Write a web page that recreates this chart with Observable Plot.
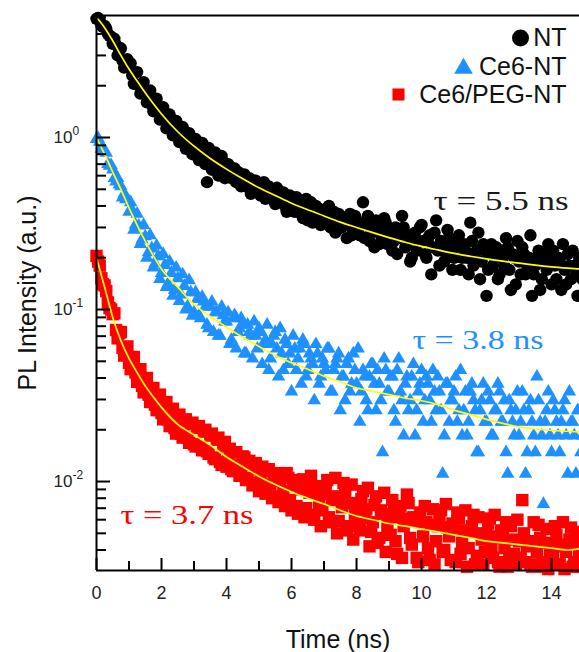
<!DOCTYPE html>
<html><head><meta charset="utf-8">
<script src="https://cdn.jsdelivr.net/npm/d3@7"></script>
<script src="https://cdn.jsdelivr.net/npm/@observablehq/plot@0.6"></script>
<style>html,body{margin:0;padding:0;background:#fff;} #chart svg{display:block;}</style>
</head><body><div id="chart"></div>
<script>
// sampling times (ns): whole-tenth channels and half-tenth channels
const times = [0,0.1,0.2,0.3,0.4,0.5,0.6,0.7,0.8,0.9,1,1.1,1.2,1.3,1.4,1.5,1.6,1.7,1.8,1.9,2,2.1,2.2,2.3,2.4,2.5,2.6,2.7,2.8,2.9,3,3.1,3.2,3.3,3.4,3.5,3.6,3.7,3.8,3.9,4,4.1,4.2,4.3,4.4,4.5,4.6,4.7,4.8,4.9,5,5.1,5.2,5.3,5.4,5.5,5.6,5.7,5.8,5.9,6,6.1,6.2,6.3,6.4,6.5,6.6,6.7,6.8,6.9,7,7.1,7.2,7.3,7.4,7.5,7.6,7.7,7.8,7.9,8,8.1,8.2,8.3,8.4,8.5,8.6,8.7,8.8,8.9,9,9.1,9.2,9.3,9.4,9.5,9.6,9.7,9.8,9.9,10,10.1,10.2,10.3,10.4,10.5,10.6,10.7,10.8,10.9,11,11.1,11.2,11.3,11.4,11.5,11.6,11.7,11.8,11.9,12,12.1,12.2,12.3,12.4,12.5,12.6,12.7,12.8,12.9,13,13.1,13.2,13.3,13.4,13.5,13.6,13.7,13.8,13.9,14,14.1,14.2,14.3,14.4,14.5,14.6,14.7,14.8,14.9];
const timesHalf = [0.05,0.15,0.25,0.35,0.45,0.55,0.65,0.75,0.85,0.95,1.05,1.15,1.25,1.35,1.45,1.55,1.65,1.75,1.85,1.95,2.05,2.15,2.25,2.35,2.45,2.55,2.65,2.75,2.85,2.95,3.05,3.15,3.25,3.35,3.45,3.55,3.65,3.75,3.85,3.95,4.05,4.15,4.25,4.35,4.45,4.55,4.65,4.75,4.85,4.95,5.05,5.15,5.25,5.35,5.45,5.55,5.65,5.75,5.85,5.95,6.05,6.15,6.25,6.35,6.45,6.55,6.65,6.75,6.85,6.95,7.05,7.15,7.25,7.35,7.45,7.55,7.65,7.75,7.85,7.95,8.05,8.15,8.25,8.35,8.45,8.55,8.65,8.75,8.85,8.95,9.05,9.15,9.25,9.35,9.45,9.55,9.65,9.75,9.85,9.95,10.05,10.15,10.25,10.35,10.45,10.55,10.65,10.75,10.85,10.95,11.05,11.15,11.25,11.35,11.45,11.55,11.65,11.75,11.85,11.95,12.05,12.15,12.25,12.35,12.45,12.55,12.65,12.75,12.85,12.95,13.05,13.15,13.25,13.35,13.45,13.55,13.65,13.75,13.85,13.95,14.05,14.15,14.25,14.35,14.45,14.55,14.65,14.75,14.85,14.95];

// NT (black circles)
const ntValues = [
4.9,4.8,4.4,4.3,3.9,3.5,3.45,3.2,2.8,2.75,
2.6,2.3,2.05,2.0,1.85,1.9,1.75,1.55,1.5,1.52,
1.4,1.33,1.2,1.22,1.1,1.12,1.0,1.06,0.92,0.97,
0.85,0.9,0.78,0.86,0.55,0.8,0.7,0.76,0.66,0.72,
0.6,0.68,0.64,0.55,0.62,0.6,0.52,0.58,0.5,0.56,
0.48,0.53,0.44,0.52,0.5,0.41,0.49,0.47,0.4,0.45,
0.44,0.37,0.43,0.36,0.41,0.33,0.42,0.36,0.39,0.31,
0.38,0.35,0.3,0.37,0.29,0.35,0.32,0.26,0.36,0.3,
0.33,0.27,0.42,0.31,0.25,0.3,0.33,0.24,0.29,0.32,
0.27,0.22,0.3,0.26,0.35,0.23,0.27,0.2,0.28,0.25,
0.31,0.21,0.26,0.16,0.28,0.22,0.25,0.19,0.29,0.23,
0.2,0.25,0.17,0.24,0.2,0.32,0.18,0.22,0.15,0.24,
0.12,0.21,0.18,0.23,0.16,0.2,0.26,0.17,0.21,0.14,
0.19,0.23,0.16,0.2,0.12,0.18,0.22,0.15,0.19,0.24,
0.14,0.18,0.2,0.13,0.17,0.21,0.15,0.18,0.12,0.19];
const ntValuesHalf = [
4.95,4.5,4.45,4.0,3.85,3.75,3.0,3.3,2.55,2.85,
2.7,2.05,2.4,1.8,2.1,1.6,1.88,1.42,1.68,1.27,
1.5,1.13,1.36,1.03,1.25,0.94,1.15,0.86,1.06,0.8,
0.98,0.74,0.93,0.7,0.87,0.65,0.82,0.6,0.78,0.58,
0.7,0.58,0.66,0.63,0.52,0.61,0.57,0.47,0.56,0.54,
0.46,0.55,0.45,0.5,0.43,0.51,0.42,0.48,0.37,0.46,
0.39,0.45,0.38,0.34,0.44,0.37,0.32,0.4,0.34,0.37,
0.32,0.4,0.33,0.28,0.36,0.3,0.34,0.31,0.27,0.35,
0.29,0.32,0.26,0.35,0.28,0.23,0.31,0.27,0.34,0.24,
0.29,0.25,0.21,0.28,0.3,0.24,0.19,0.27,0.22,0.3,
0.25,0.2,0.27,0.23,0.33,0.18,0.24,0.21,0.26,0.17,
0.23,0.27,0.2,0.22,0.16,0.25,0.21,0.28,0.19,0.22,
0.17,0.24,0.2,0.15,0.22,0.18,0.23,0.13,0.2,0.25,
0.16,0.21,0.18,0.27,0.16,0.2,0.13,0.21,0.17,0.2,
0.22,0.15,0.19,0.24,0.14,0.18,0.22,0.16,0.2,0.15];

// Ce6-NT (blue triangles)
const ce6Values = [
0.98,0.944,0.833,0.814,0.685,0.651,0.555,0.533,0.448,0.437,
0.37,0.377,0.311,0.307,0.255,0.266,0.215,0.226,0.185,0.204,
0.163,0.181,0.141,0.163,0.13,0.152,0.122,0.137,0.104,0.126,
0.0962,0.115,0.0888,0.111,0.0814,0.1036,0.074,0.0962,0.0703,0.0925,
0.0851,0.0629,0.0888,0.0592,0.0777,0.0814,0.0555,0.074,0.0518,0.0703,
0.0777,0.0481,0.0666,0.0444,0.0629,0.074,0.0407,0.0555,0.0666,0.0481,
0.0333,0.0592,0.0518,0.037,0.0629,0.0444,0.0518,0.0296,0.0555,0.0407,
0.0481,0.0592,0.0333,0.0444,0.0518,0.0259,0.0407,0.0481,0.0333,0.0555,
0.037,0.0222,0.0444,0.0296,0.0407,0.0481,0.0259,0.037,0.0148,0.0444,
0.0333,0.0407,0.0222,0.0518,0.0296,0.037,0.0259,0.0407,0.0185,0.0333,
0.0444,0.0296,0.037,0.0222,0.0333,0.0407,0.0259,0.0185,0.037,0.0296,
0.0333,0.0222,0.0444,0.0259,0.0185,0.0333,0.0296,0.0148,0.0259,0.037,
0.0222,0.0296,0.0185,0.0259,0.0333,0.0222,0.0148,0.0296,0.0222,0.0259,
0.0185,0.0333,0.0111,0.0259,0.0222,0.0148,0.0296,0.0185,0.0222,0.0333,
0.0148,0.0259,0.0185,0.0222,0.0296,0.0111,0.0222,0.0185,0.0259,0.0148];
const ce6ValuesHalf = [
0.99,0.86,0.83,0.7,0.69,0.58,0.58,0.52,0.47,0.44,
0.42,0.29,0.36,0.24,0.31,0.2,0.27,0.175,0.235,0.15,
0.21,0.135,0.19,0.12,0.175,0.112,0.16,0.1,0.148,0.092,
0.1258,0.0925,0.1184,0.1036,0.0777,0.111,0.0962,0.0703,0.1036,0.0851,
0.0962,0.0666,0.0925,0.074,0.0888,0.0555,0.0814,0.0703,0.0851,0.0592,
0.074,0.0629,0.0814,0.0518,0.0703,0.0592,0.0777,0.0444,0.0629,0.0555,
0.0703,0.0444,0.0592,0.0666,0.0407,0.0555,0.0481,0.0629,0.037,0.0518,
0.0444,0.0592,0.0333,0.0481,0.0555,0.0407,0.0296,0.0518,0.037,0.0444,
0.0592,0.0333,0.0407,0.0259,0.0481,0.037,0.0444,0.0296,0.0518,0.0333,
0.0407,0.0259,0.0444,0.0333,0.0185,0.0407,0.0296,0.0481,0.0259,0.037,
0.0222,0.0407,0.0296,0.0444,0.0259,0.0333,0.0111,0.037,0.0222,0.0296,
0.0407,0.0259,0.0185,0.0333,0.0222,0.037,0.0259,0.0148,0.0296,0.0222,
0.0333,0.0185,0.0259,0.037,0.0222,0.0296,0.0111,0.0259,0.0185,0.0333,
0.0222,0.0259,0.0148,0.0296,0.0185,0.0407,0.0222,0.0074,0.0259,0.0185,
0.0296,0.0222,0.0148,0.0259,0.0185,0.0333,0.0222,0.0111,0.0259,0.0185];

// Ce6/PEG-NT (red squares)
const pegValues = [
0.205,0.18,0.14,0.128,0.102,0.094,0.076,0.073,0.06,0.06,
0.049,0.051,0.043,0.044,0.036,0.038,0.032,0.034,0.028,0.031,
0.025,0.0285,0.023,0.0255,0.0205,0.0235,0.019,0.0225,0.018,0.0215,
0.0165,0.0205,0.016,0.0195,0.015,0.0185,0.0138,0.0175,0.013,0.016,
0.0122,0.0155,0.0115,0.0148,0.0108,0.014,0.0102,0.0132,0.0095,0.0128,
0.0088,0.0122,0.0085,0.0118,0.008,0.0112,0.0076,0.0108,0.0072,0.0105,
0.0068,0.0102,0.0065,0.0098,0.0062,0.0094,0.0108,0.006,0.0088,0.0055,
0.0085,0.0102,0.0058,0.0082,0.005,0.0079,0.0098,0.0052,0.0075,0.0046,
0.0072,0.0052,0.0088,0.0069,0.0042,0.0058,0.0082,0.0047,0.0065,0.0039,
0.0064,0.0078,0.0045,0.0062,0.0036,0.0061,0.0075,0.0043,0.0059,0.0034,
0.0058,0.0072,0.0041,0.0056,0.0033,0.0055,0.0068,0.004,0.0054,0.0035,
0.0053,0.0066,0.0038,0.0052,0.0032,0.0051,0.0064,0.0037,0.005,0.0033,
0.0049,0.0061,0.0036,0.0048,0.0032,0.0047,0.0058,0.0035,0.0046,0.0033,
0.0045,0.0078,0.0034,0.0045,0.0032,0.0044,0.0056,0.0034,0.0044,0.0031,
0.0043,0.0055,0.0033,0.0042,0.0031,0.0043,0.0054,0.0034,0.0044,0.0032];
const pegValuesHalf = [
0.19,0.152,0.138,0.11,0.1,0.095,0.068,0.074,0.054,0.061,
0.045,0.053,0.038,0.045,0.033,0.04,0.029,0.035,0.026,0.032,
0.023,0.029,0.021,0.0265,0.019,0.0245,0.018,0.023,0.0168,0.022,
0.016,0.021,0.0152,0.02,0.0145,0.019,0.0135,0.018,0.0125,0.017,
0.0132,0.0118,0.0148,0.0125,0.0112,0.0138,0.0105,0.0125,0.0098,0.0118,
0.0108,0.0092,0.0115,0.0096,0.0104,0.0082,0.0101,0.0088,0.0112,0.0078,
0.0095,0.0072,0.009,0.0103,0.007,0.0086,0.0064,0.0094,0.0075,0.0068,
0.0092,0.0062,0.0078,0.0105,0.0059,0.0071,0.0084,0.0055,0.0096,0.0065,
0.0058,0.0079,0.0061,0.0092,0.0051,0.0073,0.0044,0.0068,0.0086,0.0055,
0.0049,0.0067,0.0038,0.0072,0.0055,0.0084,0.0047,0.0062,0.0036,0.0066,
0.0048,0.0058,0.0035,0.0069,0.0045,0.0062,0.0039,0.0074,0.0048,0.0057,
0.0034,0.0061,0.0044,0.0068,0.0041,0.0055,0.0033,0.0062,0.0046,0.0039,
0.0057,0.0042,0.0064,0.0034,0.0052,0.0041,0.0032,0.0055,0.0038,0.006,
0.0036,0.005,0.0042,0.0033,0.0058,0.0039,0.0047,0.0032,0.0053,0.004,
0.0036,0.0049,0.0033,0.0058,0.0039,0.0046,0.0032,0.0051,0.0037,0.0045];

// fitted decay curves (yellow)
const fitTimes = [0,0.25,0.5,0.75,1,1.25,1.5,1.75,2,2.5,3,3.5,4,4.5,5,5.5,6,6.5,7,7.5,8,8.5,9,9.5,10,10.5,11,11.5,12,12.5,13,13.5,14,14.5,14.9];
const ntFit = [5.0,4.35,3.65,3.0,2.5,2.13,1.82,1.57,1.37,1.08,0.89,0.755,0.655,0.575,0.51,0.46,0.415,0.38,0.35,0.322,0.30,0.28,0.262,0.246,0.233,0.222,0.212,0.204,0.197,0.191,0.186,0.181,0.177,0.174,0.172];
const ce6Fit = [1.0,0.80,0.63,0.50,0.39,0.31,0.25,0.205,0.172,0.135,0.107,0.091,0.079,0.069,0.061,0.054,0.049,0.045,0.041,0.038,0.035,0.0335,0.032,0.0305,0.0295,0.028,0.026,0.0245,0.023,0.0218,0.0208,0.0202,0.0198,0.0196,0.0194];
const pegFit = [0.2,0.135,0.09,0.066,0.052,0.043,0.036,0.031,0.027,0.0215,0.0187,0.0163,0.0139,0.0122,0.0107,0.0096,0.0087,0.008,0.0074,0.0068,0.0063,0.006,0.0057,0.0055,0.0053,0.0051,0.0049,0.0047,0.0045,0.0044,0.0043,0.0042,0.0041,0.004,0.0041];

const seriesNames = ["NT", "Ce6-NT", "Ce6/PEG-NT"];
const tauLabels = ["τ = 5.5 ns", "τ = 3.8 ns", "τ = 3.7 ns"];
const tauTimes = [10.37, 9.72, 0.74];
const tauValues = [0.381, 0.0593, 0.0057];

const xMajorTicks = [0,2,4,6,8,10,12,14];
const xMinorTicks = [1,3,5,7,9,11,13];
const yMajorTicks = [0.01, 0.1, 1];
const yMajorExponents = ["-2", "-1", "0"];
const yMinorTicks = [0.004,0.005,0.006,0.007,0.008,0.009,0.02,0.03,0.04,0.05,0.06,0.07,0.08,0.09,0.2,0.3,0.4,0.5,0.6,0.7,0.8,0.9,2,3,4,5];
const xDomain = [0, 14.86];
const yDomain = [0.00304, 5.12];
const xTitle = "Time (ns)";
const yTitle = "PL Intensity (a.u.)";

// ---- layout / style ----
const W = 579, H = 652, ML = 96, MR = 0, MT = 15, MB = 82;
const plotW = W - ML - MR, plotH = H - MT - MB;
const colors = ["#000000", "#1E90FF", "#FF0000"];
const tauColors = ["#1a1a1a", "#1E90FF", "#FF0000"];
const tauWidths = [135, 131, 133];
const symbols = ["circle", "triangle", "square"];
const dataR = [6.2, 5.0, 7.0];
const fitColor = "#FFFF00";

const pts = (tt, vals) => tt.map((t, i) => ({t, v: vals[i]}));
const seriesData = [
  pts(times, ntValues).concat(pts(timesHalf, ntValuesHalf)),
  pts(times, ce6Values).concat(pts(timesHalf, ce6ValuesHalf)),
  pts(times, pegValues).concat(pts(timesHalf, pegValuesHalf))
];
const fitData = [ntFit, ce6Fit, pegFit].map(vals => pts(fitTimes, vals));

const marks = [];
seriesData.forEach((data, i) => {
  marks.push(Plot.dot(data, {x: "t", y: "v", r: dataR[i], symbol: symbols[i], fill: colors[i], stroke: "none"}));
});
fitData.forEach((data) => {
  marks.push(Plot.line(data, {x: "t", y: "v", stroke: fitColor, strokeWidth: 1.7, curve: "monotone-x"}));
});

// frame lines
marks.push(Plot.ruleX([xDomain[0]], {stroke: "#000", strokeWidth: 2}));
marks.push(Plot.ruleY([yDomain[0], yDomain[1]], {stroke: "#000", strokeWidth: 2}));
// inward ticks
marks.push(Plot.tickY(yMajorTicks, {y: d => d, stroke: "#000", strokeWidth: 2, insetRight: plotW - 14}));
marks.push(Plot.tickY(yMinorTicks, {y: d => d, stroke: "#000", strokeWidth: 2, insetRight: plotW - 10}));
marks.push(Plot.tickX(xMajorTicks, {x: d => d, stroke: "#000", strokeWidth: 2, insetTop: plotH - 12}));
marks.push(Plot.tickX(xMinorTicks, {x: d => d, stroke: "#000", strokeWidth: 2, insetTop: plotH - 9}));
// tick labels
marks.push(Plot.text(yMajorTicks, {y: d => d, text: d => "10", frameAnchor: "left", textAnchor: "start", dx: -43, lineAnchor: "middle", fontSize: 17, fill: "#222"}));
marks.push(Plot.text(yMajorTicks, {y: d => d, text: (d, i) => yMajorExponents[i], frameAnchor: "left", textAnchor: "start", dx: -24, dy: -6, lineAnchor: "middle", fontSize: 12, fill: "#222"}));
marks.push(Plot.text(xMajorTicks, {x: d => d, text: d => String(d), frameAnchor: "bottom", dy: 23, lineAnchor: "middle", fontSize: 18, fill: "#222"}));
// axis titles
marks.push(Plot.text([xTitle], {text: d => d, frameAnchor: "bottom", textAnchor: "middle", dy: 77, lineAnchor: "bottom", fontSize: 25, fill: "#111"}));
marks.push(Plot.text([yTitle], {text: d => d, frameAnchor: "left", textAnchor: "middle", dx: -69, rotate: -90, lineAnchor: "middle", fontSize: 25, fill: "#111"}));
// lifetime annotations
marks.push(Plot.text(tauLabels.map((s, i) => ({s, t: tauTimes[i], v: tauValues[i], c: tauColors[i]})),
  {x: "t", y: "v", text: "s", fill: d => d.c, textAnchor: "start", lineAnchor: "bottom", fontSize: 27, fontFamily: "Liberation Serif, Times New Roman, serif"}));
// legend
const legendDx = [-59, -116, -181];
const legendDy = [22.5, 53, 79];
const legendR = [8.5, 6.9, 6.8];
const legendTextDy = [22.5, 51, 79];
seriesNames.forEach((name, i) => {
  marks.push(Plot.dot([name], {frameAnchor: "top-right", dx: legendDx[i], dy: legendDy[i], r: legendR[i], symbol: symbols[i], fill: colors[i], stroke: "none"}));
  marks.push(Plot.text([name], {text: d => d, frameAnchor: "top-right", textAnchor: "end", lineAnchor: "middle", dx: -13, dy: legendTextDy[i], fontSize: 25, fill: "#111"}));
});

const chart = Plot.plot({
  width: W, height: H,
  marginLeft: ML, marginRight: MR, marginTop: MT, marginBottom: MB,
  x: {domain: xDomain, axis: null},
  y: {type: "log", domain: yDomain, axis: null},
  style: {fontFamily: "Liberation Sans, Arial, sans-serif", background: "#fff", overflow: "visible"},
  marks
});
d3.select(chart).selectAll("text")
  .filter(function() { return this.textContent.startsWith("τ"); })
  .each(function() {
    const i = tauLabels.indexOf(this.textContent);
    d3.select(this).attr("textLength", tauWidths[i]).attr("lengthAdjust", "spacingAndGlyphs");
  });
document.getElementById("chart").append(chart);
</script>
</body></html>
